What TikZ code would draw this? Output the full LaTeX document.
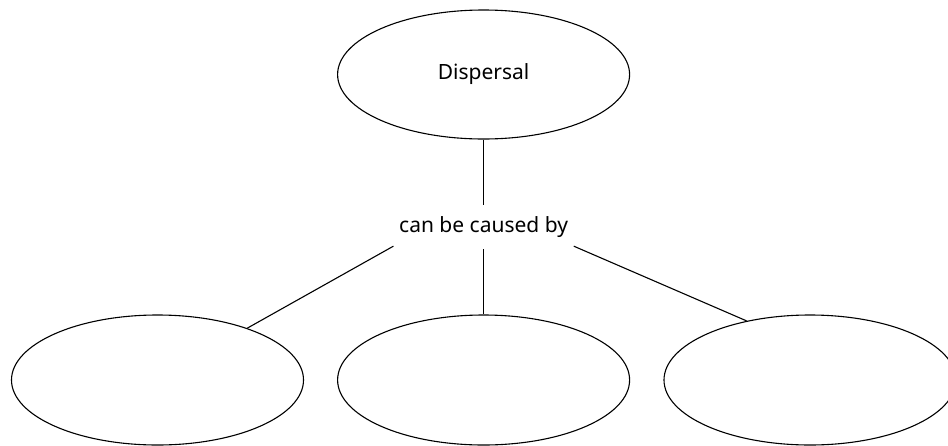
\documentclass[tikz,border=0pt]{standalone}
\usepackage{fontspec}
\setmainfont{Noto Sans}
\usetikzlibrary{shapes.geometric}
\begin{document}
\begin{tikzpicture}[x=1pt,y=-1pt,
  bubble/.style={ellipse,draw,line width=1.1pt,inner sep=0pt,minimum width=292pt,minimum height=130pt,font=\fontsize{21}{25}\selectfont},
  linker/.style={rectangle,inner sep=0pt,minimum width=180pt,minimum height=44pt,font=\fontsize{21}{25}\selectfont},
  conn/.style={line width=1.1pt}]
\useasboundingbox (0,0) rectangle (948,445);
\node[bubble,minimum height=129pt] (top) at (483.6,74.5) {\raisebox{-5pt}{Dispersal}};
\node[linker] (cause) at (483.6,227) {\raisebox{-2pt}{can be caused by}};
\node[bubble] (l) at (157.5,380) {};
\node[bubble] (m) at (483.6,380) {};
\node[bubble] (r) at (810,380) {};
\draw[conn] (top.south) -- (cause.north);
\draw[conn] (cause.192) -- (l.30);
\draw[conn] (cause.south) -- (m.north);
\draw[conn] (cause.348) -- (r.137);
\end{tikzpicture}
\end{document}
